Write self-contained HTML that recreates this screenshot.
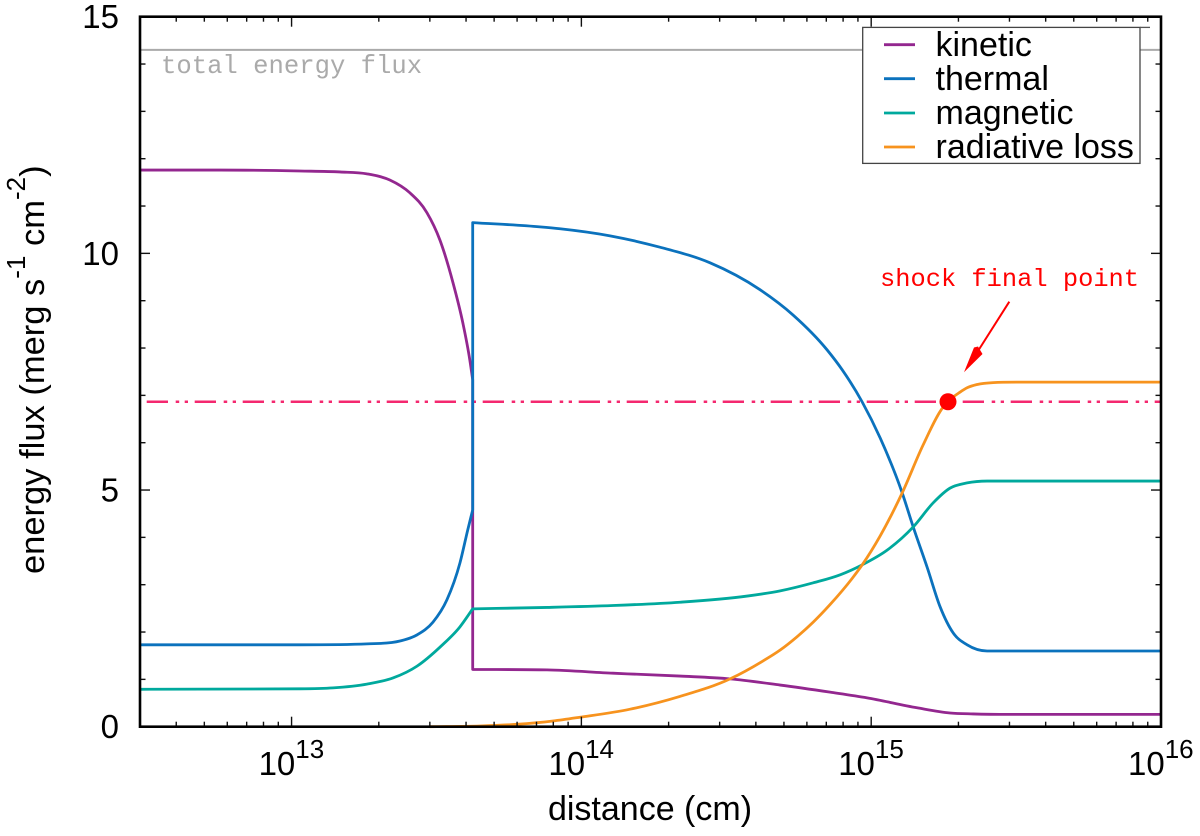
<!DOCTYPE html>
<html lang="en">
<head>
<meta charset="utf-8">
<title>Energy flux vs distance</title>
<style>
html,body{margin:0;padding:0;background:#fff;width:1200px;height:836px;overflow:hidden}
svg{display:block}
text{font-family:"Liberation Sans",Arial,sans-serif;fill:#000}
.mono{font-family:"Liberation Mono","Courier New",monospace}
</style>
</head>
<body>
<svg id="chart" width="1200" height="836" viewBox="0 0 1200 836" xmlns="http://www.w3.org/2000/svg">
  <rect x="0" y="0" width="1200" height="836" fill="#fff"/>
  <g id="refs"></g>
  <g id="series" fill="none" stroke-linejoin="round"></g>
  <g id="ticks" stroke="#111" stroke-width="1.4"></g>
  <rect x="140" y="16.7" width="1021" height="710" fill="none" stroke="#000" stroke-width="2.6"/>
  <g id="tick-labels" font-size="33"></g>
  <text x="650" y="820" font-size="34" text-anchor="middle">distance (cm)</text>
  <text transform="translate(44,574) rotate(-90)" font-size="34.5">energy flux (merg s<tspan font-size="26" dy="-19">-1</tspan><tspan dy="19"> cm</tspan><tspan font-size="26" dy="-19">-2</tspan><tspan dy="19">)</tspan></text>
  <text class="mono" x="161" y="73" font-size="25.6" style="fill:#aaa">total energy flux</text>
  <text class="mono" x="880" y="286" font-size="25.4" style="fill:#f00">shock final point</text>
  <g>
    <line x1="1009.3" y1="301.7" x2="978" y2="351" stroke="#f00" stroke-width="2"/>
    <polygon points="964,372.3 974,347.5 978,346.5 982.5,354" fill="#f00"/>
  </g>
  <g id="marker"></g>
  <g>
    <rect x="862.7" y="27.4" width="277.3" height="136" fill="#fff" stroke="#444" stroke-width="1.3"/>
    <line x1="1140" y1="27.4" x2="1150" y2="27.4" stroke="#555" stroke-width="1.3"/>
    <g>
      <line x1="884" x2="915" y1="44.7" y2="44.7" stroke="#93278f" stroke-width="2.8"/>
      <text x="935.5" y="56" font-size="34">kinetic</text>
    </g>
    <g>
      <line x1="884" x2="915" y1="78.7" y2="78.7" stroke="#0b72bd" stroke-width="2.8"/>
      <text x="935.5" y="90" font-size="34">thermal</text>
    </g>
    <g>
      <line x1="884" x2="915" y1="113" y2="113" stroke="#00a99d" stroke-width="2.8"/>
      <text x="935.5" y="124" font-size="34">magnetic</text>
    </g>
    <g>
      <line x1="884" x2="915" y1="147" y2="147" stroke="#f7931e" stroke-width="2.8"/>
      <text x="935.5" y="158" font-size="34">radiative loss</text>
    </g>
  </g>
</svg>
<script>
// ---- chart data (log10 distance in cm, energy flux in merg/s/cm2) ----
var xDecades = [13, 14, 15, 16];
var xDecadeBase = ["10", "10", "10", "10"];
var xMinorMultipliers = [2, 3, 4, 5, 6, 7, 8, 9];
var yMajorTicks = [0, 5, 10, 15];
var yMinorTicks = [1, 2, 3, 4, 6, 7, 8, 9, 11, 12, 13, 14];
var xDomainLog = [12.477, 16];
var yDomain = [0, 15];

var totalFlux = 14.3;
var shockFlux = 6.865;
var shockLogX = 15.265;

var kineticPreX = [12.476, 12.752, 13.029, 13.167, 13.260, 13.339, 13.408, 13.467, 13.512, 13.557, 13.591, 13.615, 13.625];
var kineticPreY = [11.76, 11.76, 11.74, 11.72, 11.68, 11.55, 11.28, 10.86, 10.28, 9.38, 8.53, 7.75, 7.33];
var kineticPostX = [13.625, 13.881, 14.109, 14.340, 14.513, 14.686, 14.858, 14.986, 15.158, 15.272, 15.352, 15.479, 16];
var kineticPostY = [1.21, 1.20, 1.13, 1.07, 1.01, 0.88, 0.73, 0.61, 0.40, 0.29, 0.27, 0.26, 0.26];

var thermalPreX = [12.476, 13.029, 13.260, 13.374, 13.433, 13.488, 13.536, 13.581, 13.608, 13.625];
var thermalPreY = [1.73, 1.73, 1.75, 1.81, 1.94, 2.21, 2.68, 3.46, 4.16, 4.58];
var thermalPostX = [13.625, 13.857, 13.926, 14.099, 14.271, 14.444, 14.617, 14.730, 14.848, 14.900, 14.969, 15.031, 15.107, 15.145, 15.193, 15.238, 15.283, 15.331, 15.400, 15.514, 16];
var thermalPostY = [10.65, 10.56, 10.52, 10.37, 10.13, 9.80, 9.23, 8.70, 7.96, 7.54, 6.86, 6.10, 4.94, 4.22, 3.37, 2.53, 1.98, 1.73, 1.60, 1.60, 1.60];

var magneticPreX = [12.476, 13.029, 13.143, 13.260, 13.350, 13.433, 13.512, 13.581, 13.625];
var magneticPreY = [0.79, 0.80, 0.82, 0.90, 1.03, 1.28, 1.68, 2.11, 2.49];
var magneticPostX = [13.625, 13.881, 14.109, 14.340, 14.572, 14.686, 14.800, 14.893, 14.969, 15.055, 15.145, 15.214, 15.272, 15.331, 15.400, 15.514, 16];
var magneticPostY = [2.49, 2.52, 2.56, 2.63, 2.76, 2.87, 3.04, 3.21, 3.42, 3.73, 4.22, 4.73, 5.04, 5.15, 5.19, 5.19, 5.19];

var radiativeX = [13.477, 13.650, 13.778, 13.902, 13.995, 14.168, 14.340, 14.513, 14.627, 14.686, 14.744, 14.800, 14.858, 14.934, 14.969, 15.031, 15.107, 15.179, 15.248, 15.265, 15.307, 15.331, 15.366, 15.421, 15.514, 16];
var radiativeY = [0, 0.015, 0.05, 0.12, 0.20, 0.37, 0.64, 1.01, 1.39, 1.62, 1.90, 2.21, 2.58, 3.13, 3.42, 4.03, 4.94, 5.95, 6.75, 6.87, 7.07, 7.16, 7.23, 7.27, 7.28, 7.28];

// ---- axis functions ----
var plotLeft = 140, plotRight = 1161, plotTop = 16.7, plotBottom = 726.7;
function xPos(logValue) {
  return plotLeft + (logValue - xDomainLog[0]) / (xDomainLog[1] - xDomainLog[0]) * (plotRight - plotLeft);
}
function yPos(value) {
  return plotBottom - (value - yDomain[0]) / (yDomain[1] - yDomain[0]) * (plotBottom - plotTop);
}

var NS = "http://www.w3.org/2000/svg";
function node(tag, parent) {
  var el = document.createElementNS(NS, tag);
  parent.appendChild(el);
  return el;
}

// smooth cubic path through a run of points (limited parabolic tangents)
function curvePath(xs, ys) {
  var px = xs.map(xPos), py = ys.map(yPos), n = px.length, i;
  var dx = [], m = [], t = [];
  for (i = 0; i < n - 1; i++) {
    dx[i] = px[i + 1] - px[i];
    m[i] = (py[i + 1] - py[i]) / dx[i];
  }
  t[0] = m[0];
  t[n - 1] = m[n - 2];
  for (i = 1; i < n - 1; i++) {
    if (m[i - 1] * m[i] <= 0) {
      t[i] = 0;
    } else {
      var p = (dx[i - 1] * m[i] + dx[i] * m[i - 1]) / (dx[i - 1] + dx[i]);
      var lim = 3 * Math.min(Math.abs(m[i - 1]), Math.abs(m[i]));
      t[i] = Math.abs(p) > lim ? (p > 0 ? lim : -lim) : p;
    }
  }
  var d = "M" + px[0].toFixed(2) + " " + py[0].toFixed(2);
  for (i = 0; i < n - 1; i++) {
    var h = dx[i] / 3;
    d += "C" + (px[i] + h).toFixed(2) + " " + (py[i] + t[i] * h).toFixed(2) + " " +
         (px[i + 1] - h).toFixed(2) + " " + (py[i + 1] - t[i + 1] * h).toFixed(2) + " " +
         px[i + 1].toFixed(2) + " " + py[i + 1].toFixed(2);
  }
  return d;
}
// joins a pre-shock and post-shock run with the vertical jump between them
function jumpPath(x1, y1, x2, y2) {
  return curvePath(x1, y1) + "L" + curvePath(x2, y2).slice(1);
}

// ---- reference lines ----
var refs = document.getElementById("refs");
var totalLine = node("line", refs);


totalLine.setAttribute("x1", xPos(xDomainLog[0]));
totalLine.setAttribute("x2", xPos(xDomainLog[1]));
totalLine.setAttribute("y1", yPos(totalFlux));
totalLine.setAttribute("y2", yPos(totalFlux));
totalLine.setAttribute("stroke", "#aaa");
totalLine.setAttribute("stroke-width", "2");

var shockLine = node("line", refs);


shockLine.setAttribute("x1", xPos(xDomainLog[0]));
shockLine.setAttribute("x2", xPos(xDomainLog[1]));
shockLine.setAttribute("y1", yPos(shockFlux));
shockLine.setAttribute("y2", yPos(shockFlux));
shockLine.setAttribute("stroke", "#f4286f");
shockLine.setAttribute("stroke-width", "2.4");
shockLine.setAttribute("stroke-dasharray", "21.3 7.7 3.5 5.5 3.3 6.7");
shockLine.setAttribute("stroke-dashoffset", "41.3");

// ---- series ----
var seriesGroup = document.getElementById("series");

var kineticPath = node("path", seriesGroup);


kineticPath.setAttribute("d", jumpPath(kineticPreX, kineticPreY, kineticPostX, kineticPostY));
kineticPath.setAttribute("stroke", "#93278f");
kineticPath.setAttribute("stroke-width", "2.8");

var thermalPath = node("path", seriesGroup);


thermalPath.setAttribute("d", jumpPath(thermalPreX, thermalPreY, thermalPostX, thermalPostY));
thermalPath.setAttribute("stroke", "#0b72bd");
thermalPath.setAttribute("stroke-width", "2.8");

var magneticPath = node("path", seriesGroup);


magneticPath.setAttribute("d", jumpPath(magneticPreX, magneticPreY, magneticPostX, magneticPostY));
magneticPath.setAttribute("stroke", "#00a99d");
magneticPath.setAttribute("stroke-width", "2.8");

var radiativePath = node("path", seriesGroup);


radiativePath.setAttribute("d", curvePath(radiativeX, radiativeY));
radiativePath.setAttribute("stroke", "#f7931e");
radiativePath.setAttribute("stroke-width", "2.8");

// ---- shock marker ----
var dot = node("circle", document.getElementById("marker"));


dot.setAttribute("cx", xPos(shockLogX));
dot.setAttribute("cy", yPos(shockFlux));
dot.setAttribute("r", "8.5");
dot.setAttribute("fill", "#f00");

// ---- ticks ----
var tickGroup = document.getElementById("ticks");
function xTick(logValue, len, name) {
  var x = xPos(logValue);
  if (x <= plotLeft || x >= plotRight) return;
  var bottomTick = node("line", tickGroup);
  
  
  bottomTick.setAttribute("x1", x);
  bottomTick.setAttribute("x2", x);
  bottomTick.setAttribute("y1", plotBottom);
  bottomTick.setAttribute("y2", plotBottom - len);
  var topTick = node("line", tickGroup);
  
  
  topTick.setAttribute("x1", x);
  topTick.setAttribute("x2", x);
  topTick.setAttribute("y1", plotTop);
  topTick.setAttribute("y2", plotTop + len);
}
function yTick(value, len, name) {
  var y = yPos(value);
  if (y <= plotTop || y >= plotBottom) return;
  var leftTick = node("line", tickGroup);
  
  
  leftTick.setAttribute("x1", plotLeft);
  leftTick.setAttribute("x2", plotLeft + len);
  leftTick.setAttribute("y1", y);
  leftTick.setAttribute("y2", y);
  var rightTick = node("line", tickGroup);
  
  
  rightTick.setAttribute("x1", plotRight);
  rightTick.setAttribute("x2", plotRight - len);
  rightTick.setAttribute("y1", y);
  rightTick.setAttribute("y2", y);
}
xDecades.forEach(function (dec) {
  xTick(dec, 10, "x-major-tick-" + dec);
  xMinorMultipliers.forEach(function (mult) {
    xTick(dec - 1 + Math.log10(mult), 5, "x-minor-tick");
  });
});
yMajorTicks.forEach(function (v) { yTick(v, 10, "y-major-tick-" + v); });
yMinorTicks.forEach(function (v) { yTick(v, 5.5, "y-minor-tick-" + v); });

// ---- tick labels ----
var labelGroup = document.getElementById("tick-labels");
yMajorTicks.forEach(function (v) {
  var label = node("text", labelGroup);
  
  
  label.setAttribute("x", "119");
  label.setAttribute("y", yPos(v) + 11.5);
  label.setAttribute("text-anchor", "end");
  label.textContent = String(v);
});
xDecades.forEach(function (dec, i) {
  var label = node("text", labelGroup);
  
  
  label.setAttribute("x", xPos(dec) - 33);
  label.setAttribute("y", "775");
  var base = node("tspan", label);
  
  
  base.textContent = xDecadeBase[i];
  var exp = node("tspan", label);
  
  
  exp.setAttribute("font-size", "26");
  exp.setAttribute("dy", "-17");
  exp.textContent = String(dec);
});
</script>
</body>
</html>
